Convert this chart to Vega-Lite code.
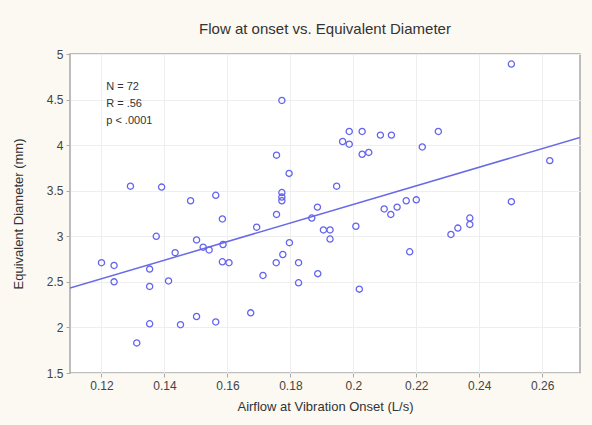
{
  "$schema": "https://vega.github.io/schema/vega-lite/v6.json",
  "width": 510,
  "height": 319,
  "autosize": {"type": "none"},
  "padding": {"left": 70, "top": 54, "right": 12, "bottom": 52},
  "background": "#fcf9f2",
  "title": {"text": "Flow at onset vs. Equivalent Diameter", "fontSize": 15, "font": "Liberation Sans", "fontWeight": "normal", "color": "#333333", "offset": 11},
  "config": {
    "view": {"stroke": "#a8a8a8", "strokeWidth": 1.5, "fill": "white"},
    "axis": {"labelFont": "Liberation Sans", "titleFont": "Liberation Sans", "labelFontSize": 12, "titleFontSize": 13, "labelColor": "#444444", "titleColor": "#333333", "titleFontWeight": "normal", "gridColor": "#eeeeee", "domain": false, "tickColor": "#aaaaaa", "tickSize": 4}
  },
  "datasets": {
    "points": [
      {"flow": 0.1773, "diam": 4.49}, {"flow": 0.1756, "diam": 3.89}, {"flow": 0.1796, "diam": 3.69},
      {"flow": 0.1292, "diam": 3.55}, {"flow": 0.1391, "diam": 3.54}, {"flow": 0.1483, "diam": 3.39},
      {"flow": 0.1563, "diam": 3.45}, {"flow": 0.1773, "diam": 3.48}, {"flow": 0.1773, "diam": 3.43},
      {"flow": 0.1773, "diam": 3.39}, {"flow": 0.1756, "diam": 3.24}, {"flow": 0.1886, "diam": 3.32},
      {"flow": 0.1584, "diam": 3.19}, {"flow": 0.2502, "diam": 4.89}, {"flow": 0.1987, "diam": 4.15},
      {"flow": 0.2028, "diam": 4.15}, {"flow": 0.1966, "diam": 4.04}, {"flow": 0.1987, "diam": 4.01},
      {"flow": 0.2086, "diam": 4.11}, {"flow": 0.2121, "diam": 4.11}, {"flow": 0.227, "diam": 4.15},
      {"flow": 0.2219, "diam": 3.98}, {"flow": 0.2028, "diam": 3.9}, {"flow": 0.2049, "diam": 3.92},
      {"flow": 0.2624, "diam": 3.83}, {"flow": 0.1947, "diam": 3.55}, {"flow": 0.2502, "diam": 3.38},
      {"flow": 0.2098, "diam": 3.3}, {"flow": 0.2119, "diam": 3.24}, {"flow": 0.2139, "diam": 3.32},
      {"flow": 0.2168, "diam": 3.39}, {"flow": 0.22, "diam": 3.4}, {"flow": 0.237, "diam": 3.2},
      {"flow": 0.1868, "diam": 3.2}, {"flow": 0.1905, "diam": 3.07}, {"flow": 0.1926, "diam": 3.07},
      {"flow": 0.1926, "diam": 2.97}, {"flow": 0.2008, "diam": 3.11}, {"flow": 0.237, "diam": 3.13},
      {"flow": 0.2332, "diam": 3.09}, {"flow": 0.231, "diam": 3.02}, {"flow": 0.2179, "diam": 2.83},
      {"flow": 0.1887, "diam": 2.59}, {"flow": 0.2019, "diam": 2.42}, {"flow": 0.1693, "diam": 3.1},
      {"flow": 0.1374, "diam": 3.0}, {"flow": 0.1502, "diam": 2.96}, {"flow": 0.1523, "diam": 2.88},
      {"flow": 0.1542, "diam": 2.85}, {"flow": 0.1586, "diam": 2.91}, {"flow": 0.1434, "diam": 2.82},
      {"flow": 0.1797, "diam": 2.93}, {"flow": 0.12, "diam": 2.71}, {"flow": 0.124, "diam": 2.68},
      {"flow": 0.1353, "diam": 2.64}, {"flow": 0.1584, "diam": 2.72}, {"flow": 0.1605, "diam": 2.71},
      {"flow": 0.1755, "diam": 2.71}, {"flow": 0.1776, "diam": 2.8}, {"flow": 0.1826, "diam": 2.71},
      {"flow": 0.124, "diam": 2.5}, {"flow": 0.1353, "diam": 2.45}, {"flow": 0.1413, "diam": 2.51},
      {"flow": 0.1713, "diam": 2.57}, {"flow": 0.1826, "diam": 2.49}, {"flow": 0.1674, "diam": 2.16},
      {"flow": 0.1353, "diam": 2.04}, {"flow": 0.1451, "diam": 2.03}, {"flow": 0.1502, "diam": 2.12},
      {"flow": 0.1563, "diam": 2.06}, {"flow": 0.1312, "diam": 1.83}
    ],
    "fit": [
      {"flow": 0.11, "diam": 2.432},
      {"flow": 0.272, "diam": 4.084}
    ],
    "notes": [
      {"label": "N = 72", "flow": 0.1215, "diam": 4.64},
      {"label": "R = .56", "flow": 0.1215, "diam": 4.45},
      {"label": "p < .0001", "flow": 0.1215, "diam": 4.26}
    ]
  },
  "layer": [
    {
      "data": {"name": "fit"},
      "mark": {"type": "line", "color": "#6a6ae6", "strokeWidth": 1.5, "clip": true},
      "encoding": {
        "x": {"field": "flow", "type": "quantitative", "scale": {"domain": [0.11, 0.272], "nice": false, "zero": false},
              "axis": {"title": "Airflow at Vibration Onset (L/s)", "values": [0.12, 0.14, 0.16, 0.18, 0.2, 0.22, 0.24, 0.26], "format": ".2~f", "labelPadding": 3, "titlePadding": 9}},
        "y": {"field": "diam", "type": "quantitative", "scale": {"domain": [1.5, 5], "nice": false, "zero": false},
              "axis": {"title": "Equivalent Diameter (mm)", "values": [1.5, 2, 2.5, 3, 3.5, 4, 4.5, 5], "format": "~g", "labelPadding": 3, "titlePadding": 21}}
      }
    },
    {
      "data": {"name": "points"},
      "mark": {"type": "point", "shape": "circle", "filled": false, "color": "#6464ee", "strokeWidth": 1.3, "size": 38, "opacity": 1},
      "encoding": {
        "x": {"field": "flow", "type": "quantitative"},
        "y": {"field": "diam", "type": "quantitative"}
      }
    },
    {
      "data": {"name": "notes"},
      "mark": {"type": "text", "align": "left", "baseline": "middle", "font": "Liberation Sans", "fontSize": 11, "color": "#333333"},
      "encoding": {
        "x": {"field": "flow", "type": "quantitative"},
        "y": {"field": "diam", "type": "quantitative"},
        "text": {"field": "label"}
      }
    }
  ]
}
